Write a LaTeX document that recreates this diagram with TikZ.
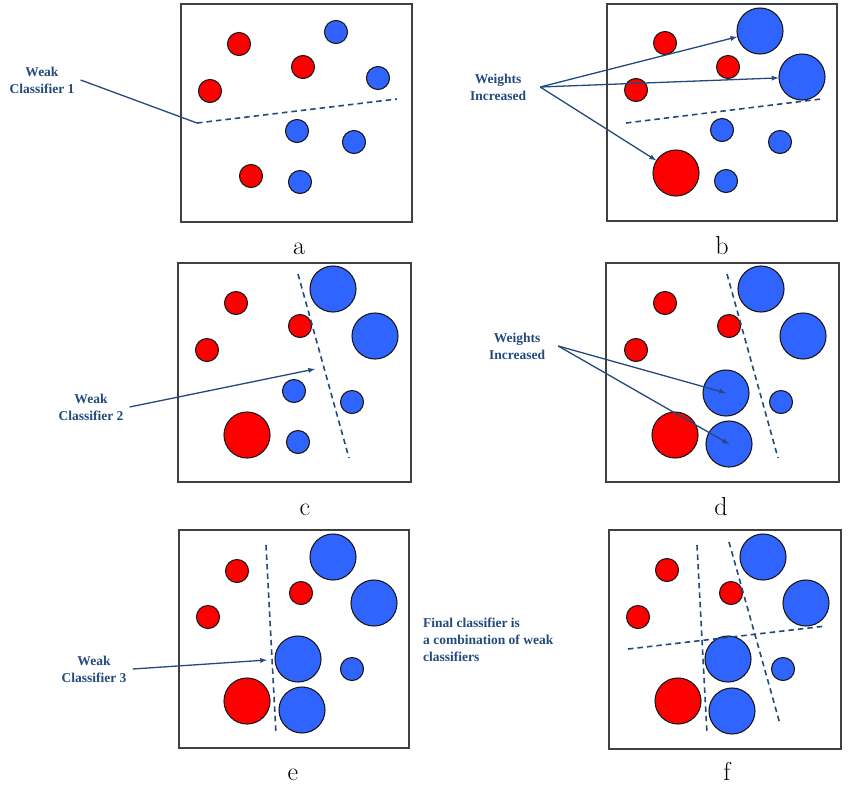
\documentclass[tikz,border=0pt]{standalone}
\usepackage{fontspec}
\newfontfamily\notefont{Liberation Serif}
\usetikzlibrary{arrows,positioning}
\definecolor{noteblue}{RGB}{35,74,125}
\definecolor{dotred}{RGB}{255,0,0}
\definecolor{dotblue}{RGB}{48,100,255}
\tikzset{
  dot/.style        = {circle, draw=black!90, line width=1.1pt, inner sep=0pt},
  red small/.style  = {dot, fill=dotred, minimum size=23pt},
  red big/.style    = {dot, fill=dotred, minimum size=46pt},
  blue small/.style = {dot, fill=dotblue, minimum size=23pt},
  blue big/.style   = {dot, fill=dotblue, minimum size=46pt},
  frame/.style      = {draw=black!75, line width=1.5pt},
  note/.style       = {font=\notefont\bfseries\fontsize{13.5}{17}\selectfont,
                       text=noteblue, align=center, inner sep=1pt},
  split/.style      = {draw=noteblue, dash pattern=on 5.5pt off 4pt, line width=1.6pt},
  pointer/.style    = {draw=noteblue, line width=1.3pt},
  caption/.style    = {font=\fontsize{26}{30}\selectfont, anchor=base}
}

\begin{document}
\begin{tikzpicture}[x=1pt, y=-1pt, >=latex]
\useasboundingbox (0,0) rectangle (848,796);

% frames
\draw[frame] (181,4) rectangle (412,222);
\draw[frame] (607,4) rectangle (837,221);
\draw[frame] (178,263) rectangle (411,482);
\draw[frame] (606,263) rectangle (839,482);
\draw[frame] (179,530) rectangle (409,748);
\draw[frame] (609,530) rectangle (841,749);

% panel a
\node[red small]  (a1) at (239,44) {};
\node[blue small] (a2) at (336,32) {};
\node[red small]  (a3) at (303,67) {};
\node[blue small] (a4) at (378,78) {};
\node[red small]  (a5) at (210,91) {};
\node[blue small] (a6) at (297,131) {};
\node[blue small] (a7) at (354,142) {};
\node[red small]  (a8) at (251,176) {};
\node[blue small] (a9) at (300,182) {};

% panel b
\node[red small]  (b1) at (665,43) {};
\node[blue big]   (b2) at (760,31) {};
\node[red small]  (b3) at (728,67) {};
\node[blue big]   (b4) at (802,77) {};
\node[red small]  (b5) at (636,90) {};
\node[blue small] (b6) at (722,130) {};
\node[blue small] (b7) at (780,142) {};
\node[red big]    (b8) at (676,173) {};
\node[blue small] (b9) at (726,181) {};

% panel c
\node[red small]  (c1) at (236,303) {};
\node[blue big]   (c2) at (333,289) {};
\node[red small]  (c3) at (300,326) {};
\node[blue big]   (c4) at (375,336) {};
\node[red small]  (c5) at (207,350) {};
\node[blue small] (c6) at (294,391) {};
\node[blue small] (c7) at (352,402) {};
\node[red big]    (c8) at (247,435) {};
\node[blue small] (c9) at (298,442) {};

% panel d
\node[red small]  (d1) at (665,303) {};
\node[blue big]   (d2) at (761,289) {};
\node[red small]  (d3) at (729,326) {};
\node[blue big]   (d4) at (803,336) {};
\node[red small]  (d5) at (636,350) {};
\node[blue big]   (d6) at (726,393) {};
\node[blue small] (d7) at (781,402) {};
\node[red big]    (d8) at (675,435) {};
\node[blue big]   (d9) at (729,444) {};

% panel e
\node[red small]  (e1) at (237,571) {};
\node[blue big]   (e2) at (333,557) {};
\node[red small]  (e3) at (301,593) {};
\node[blue big]   (e4) at (374,603) {};
\node[red small]  (e5) at (208,617) {};
\node[blue big]   (e6) at (298,659) {};
\node[blue small] (e7) at (352,669) {};
\node[red big]    (e8) at (247,701) {};
\node[blue big]   (e9) at (302,710) {};

% panel f
\node[red small]  (f1) at (667,570) {};
\node[blue big]   (f2) at (763,557) {};
\node[red small]  (f3) at (731,593) {};
\node[blue big]   (f4) at (806,603) {};
\node[red small]  (f5) at (638,617) {};
\node[blue big]   (f6) at (728,659) {};
\node[blue small] (f7) at (783,669) {};
\node[red big]    (f8) at (678,701) {};
\node[blue big]   (f9) at (732,711) {};

% weak classifiers (dashed)
\coordinate (sa1) at (197,123); \coordinate (sa2) at (397,99);
\coordinate (sb1) at (626,123); \coordinate (sb2) at (821,99);
\coordinate (sc1) at (298,274); \coordinate (sc2) at (349,458);
\coordinate (sd1) at (727,274); \coordinate (sd2) at (778,458);
\coordinate (se1) at (266,545); \coordinate (se2) at (276,734);
\coordinate (sf1) at (697,545); \coordinate (sf2) at (707,734);
\coordinate (sf3) at (729,542); \coordinate (sf4) at (780,724);
\coordinate (sf5) at (628,649); \coordinate (sf6) at (826,626);
\draw[split] (sa1) -- (sa2);
\draw[split] (sb1) -- (sb2);
\draw[split] (sc1) -- (sc2);
\draw[split] (sd1) -- (sd2);
\draw[split] (se1) -- (se2);
\draw[split] (sf1) -- (sf2);
\draw[split] (sf3) -- (sf4);
\draw[split] (sf5) -- (sf6);

% notes
\node[note] (wc1) at (42,80) {Weak\\Classifier 1};
\node[note] (wi1) at (498,87) {Weights\\Increased};
\node[note] (wc2) at (91,407) {Weak\\Classifier 2};
\node[note] (wi2) at (517,346) {Weights\\Increased};
\node[note] (wc3) at (94,669) {Weak\\Classifier 3};
\node[note, align=left, anchor=west, inner sep=0pt] (fin) at (423,640)
  {Final classifier is\\a combination of weak\\classifiers};

\coordinate[right=5pt of wc1] (h1);
\coordinate[right=13pt of wi1] (h2);
\coordinate[right=5pt of wc2] (h3);
\coordinate[right=12pt of wi2] (h4);
\coordinate[right=5pt of wc3] (h5);
\coordinate (tc) at (315,369);
\coordinate (te) at (267,660);

\draw[pointer] (h1) -- (sa1);
\foreach \value in {2,4,8}
  \draw[pointer, ->] (h2) -- (b\value);
\draw[pointer, ->] (h3) -- (tc);
\foreach \value in {6,9}
  \draw[pointer, ->] (h4) -- (d\value.center);
\draw[pointer, ->] (h5) -- (te);

% captions
\node[caption] (la) at (299,254) {a};
\node[caption] (lb) at (722,254) {b};
\node[caption] (lc) at (305,515) {c};
\node[caption] (ld) at (721,515) {d};
\node[caption] (le) at (293,780) {e};
\node[caption] (lf) at (727,780) {f};
\end{tikzpicture}
\end{document}
